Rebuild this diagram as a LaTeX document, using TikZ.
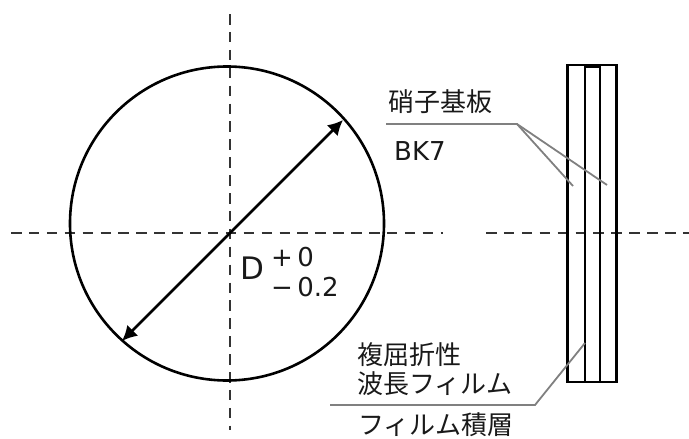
\documentclass[tikz,border=0pt]{standalone}
\usepackage{fontspec}
\setmainfont{DejaVu Sans}
\newfontfamily\jpfont{Noto Sans CJK JP}
\usetikzlibrary{arrows.meta}
\newcommand*{\mylabelstyle}{\jpfont\fontsize{26}{30}\selectfont\color{black!90}}
\newcommand*{\mylatinstyle}{\fontsize{26}{30}\selectfont\color{black!90}}
\tikzset{
  axisline/.style = {black!80, line width = 2.9pt, dash pattern = on 10.5pt off 7.4pt},
  bodyline/.style = {black, line width = 2.6pt},
  leaderline/.style = {black!50, line width = 1.8pt},
  textlabel/.style = {inner sep = 0pt, font = \mylabelstyle},
  latinlabel/.style = {inner sep = 0pt, font = \mylatinstyle}
}

\begin{document}
\begin{tikzpicture}[x = 1pt, y = -1pt]
    \useasboundingbox (0,0) rectangle (689,439);
    % centre lines
    \draw[axisline] (11,233) -- (443,233);
    \draw[axisline] (486,233) -- (689,233);
    \draw[axisline] (230,14) -- (230,430);
    % disc and its diameter
    \node[circle, bodyline, draw, minimum size = 314pt, inner sep = 0pt] (disc) at (227,223.5) {};
    \coordinate (tipA) at (343,120);
    \coordinate (tipB) at (122,341);
    \draw[bodyline, {Latex[length = 15pt, width = 15.5pt]}-{Latex[length = 15pt, width = 15.5pt]}] (tipA) -- (tipB);
    \node[latinlabel, font = \fontsize{31}{36}\selectfont\color{black!90}, anchor = west] (dia) at (240,268) {D};
    \node[latinlabel, anchor = west] (tolup) at (271,257) {+\,0};
    \node[latinlabel, anchor = west] (tollow) at (271,287) {\char"2212\,0.2};
    % plates
    \draw[bodyline] (567.5,65) rectangle (616.5,382);
    \draw[bodyline] (585,66.5) rectangle (600,382);
    % labels
    \node[textlabel, anchor = west] (glass) at (388,102) {硝子基板};
    \node[latinlabel, anchor = west] (bk) at (394,151) {BK7};
    \node[textlabel, anchor = west] (film1) at (357,355) {複屈折性};
    \node[textlabel, anchor = west] (film2) at (357,384) {波長フィルム};
    \node[textlabel, anchor = west] (film3) at (358,425) {フィルム積層};
    % leaders
    \coordinate (glassA) at (386,124);
    \coordinate (glassB) at (517,124);
    \coordinate (filmA) at (330,405);
    \coordinate (filmB) at (535,405);
    \draw[leaderline] (glassA) -- (glassB) -- (573,186);
    \draw[leaderline] (glassB) -- (607,185);
    \draw[leaderline] (filmA) -- (filmB) -- (585,343);
\end{tikzpicture}
\end{document}
